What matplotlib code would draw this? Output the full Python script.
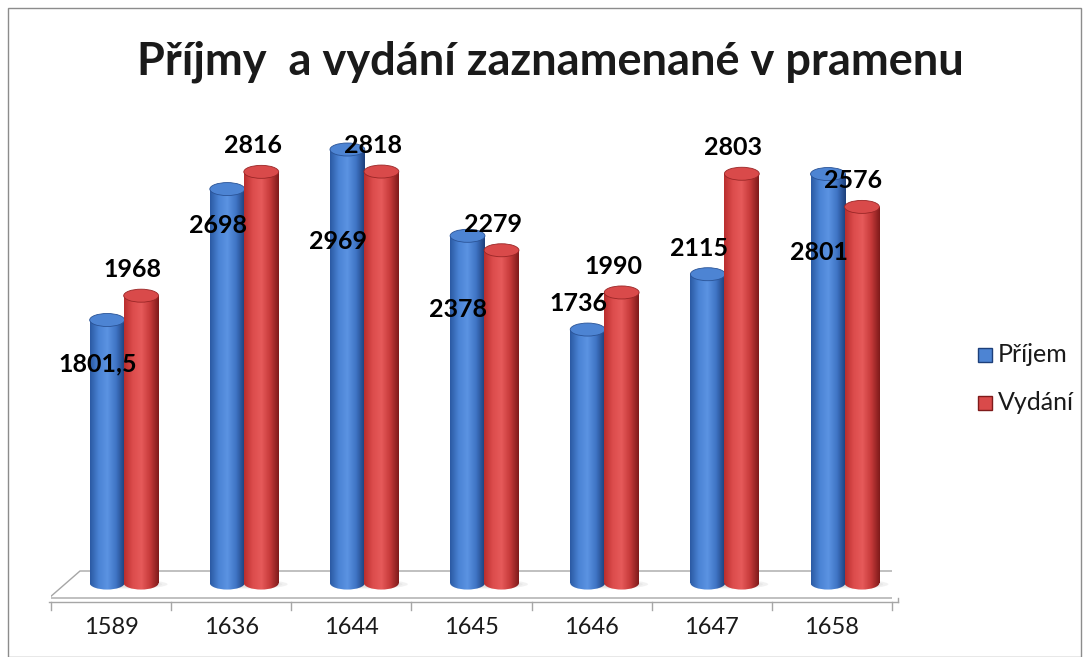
import numpy as np
import matplotlib
matplotlib.use("Agg")
import matplotlib.pyplot as plt
from matplotlib.patches import Rectangle, Ellipse, Polygon
from matplotlib.colors import LinearSegmentedColormap

# data
roky = ["1589", "1636", "1644", "1645", "1646", "1647", "1658"]
prijem = [1801.5, 2698, 2969, 2378, 1736, 2115, 2801]
vydani = [1968, 2816, 2818, 2279, 1990, 2803, 2576]
serie = ["Příjem", "Vydání"]
titulek = "Příjmy  a vydání zaznamenané v pramenu"

# Excel put the blue labels all over the place, offsets in pixels (up = +)
prijem_label_dy = [-44, -36, -92, -74, 26, 26, -78]
vydani_label_dy = 26

W, H = 1089, 657
plt.rcParams['font.family'] = ['Lato', 'DejaVu Sans']

fig = plt.figure(figsize=(W / 100, H / 100), dpi=100)
ax = fig.add_axes([51 / W, (H - 600) / H, 841 / W, 500 / H])
YMIN, YMAX = -116, 3308
px = 500 / (YMAX - YMIN)   # pixels per unit

blue_cm = LinearSegmentedColormap.from_list(
    "b", ["#2b5aa3", "#4a83d4", "#5b93e2", "#3f74c4", "#1d3f7a"], N=128)
red_cm = LinearSegmentedColormap.from_list(
    "r", ["#b92e2e", "#dc4c4c", "#e65a5a", "#c63a3a", "#7e1a1a"], N=128)
grad = np.linspace(0, 1, 128).reshape(1, -1)

bw = 0.29
cap = 13 / px


def cylinder(xc, v, cm, top_col, z):
    x0 = xc - bw / 2
    body = Rectangle((x0, 0), bw, v, facecolor="none", edgecolor="none")
    ax.add_patch(body)
    im = ax.imshow(grad, cmap=cm, extent=(x0, x0 + bw, 0, v), aspect="auto",
                   interpolation="bilinear", zorder=z + 0.1)
    im.set_clip_path(body)
    base = Ellipse((xc, 0), bw, cap, facecolor="none", edgecolor="none")
    ax.add_patch(base)
    im2 = ax.imshow(grad, cmap=cm, extent=(x0, x0 + bw, -cap, 0), aspect="auto",
                    interpolation="bilinear", zorder=z + 0.1)
    im2.set_clip_path(base)
    ax.add_patch(Ellipse((xc, v), bw, cap, facecolor=top_col,
                         edgecolor=cm(0.9), lw=0.6, zorder=z + 0.2))


# floor slab
fl = [(49, 598), (80, 571), (916, 571), (898, 598)]
fl_ax = [((x - 51) / 841, (600 - y) / 500) for x, y in fl]
ax.add_patch(Polygon(fl_ax, closed=True, transform=ax.transAxes, facecolor="white",
                     edgecolor="#a6a6a6", lw=1.0, zorder=1))
ax.plot([fl_ax[0][0], fl_ax[3][0]], [fl_ax[0][1] - 4 / 500, fl_ax[3][1] - 4 / 500],
        transform=ax.transAxes, color="#a6a6a6", lw=1.0, clip_on=False, zorder=1)
ax.plot([fl_ax[3][0], fl_ax[3][0]], [fl_ax[3][1], fl_ax[3][1] - 4 / 500],
        transform=ax.transAxes, color="#a6a6a6", lw=1.0, clip_on=False, zorder=1)
# soft shadows on the floor
for i in range(len(roky)):
    for k in range(4):
        ax.add_patch(Ellipse((i + 0.16, -8), 0.62 - k * 0.09, (9 - k * 1.5) / px,
                             facecolor="#d9d9d9", alpha=0.35, edgecolor="none", zorder=1.5))

# tick marks and category labels
for i in range(len(roky) + 1):
    xf = i / 7.0
    ax.plot([xf, xf], [-2 / 500, -10 / 500], transform=ax.transAxes,
            color="#a6a6a6", lw=1.0, clip_on=False)
for i, r in enumerate(roky):
    ax.text(i, YMIN - 28 / px, r, ha="center", va="center", fontsize=17,
            color="#1a1a1a")

for i in range(len(roky)):
    cylinder(i - 0.033, prijem[i], blue_cm, "#4d84d3", 2)
    cylinder(i + 0.25, vydani[i], red_cm, "#d94a4a", 3)


def fmt(v):
    return f"{v:g}".replace(".", ",")


for i in range(len(roky)):
    ax.text(i - 0.11, prijem[i] + prijem_label_dy[i] / px, fmt(prijem[i]),
            ha="center", va="center", fontsize=18, fontweight="bold", zorder=10)
    ax.text(i + 0.18, vydani[i] + vydani_label_dy / px, fmt(vydani[i]),
            ha="center", va="center", fontsize=18, fontweight="bold", zorder=10)

ax.set_xlim(-0.5, 6.5)
ax.set_ylim(YMIN, YMAX)
ax.axis("off")

fig.text(550 / W, 1 - 62 / H, titulek, ha="center", va="center",
         fontsize=32.5, fontweight="bold", color="#1a1a1a")

# legend
for j, (nm, c1, c2) in enumerate(zip(serie, ["#4d84d3", "#d94a4a"], ["#1d3f7a", "#7e1a1a"])):
    yc = 355 + j * 48
    fig.patches.append(Rectangle((978 / W, 1 - (yc + 7) / H), 14 / W, 14 / H,
                                 facecolor=c1, edgecolor=c2, lw=1.0,
                                 transform=fig.transFigure, figure=fig))
    fig.text(998 / W, 1 - yc / H, nm, ha="left", va="center", fontsize=18,
             color="#1a1a1a")

# outer border
fig.patches.append(Rectangle((8 / W, 0), (W - 16) / W, 1 - 8 / H, facecolor="none",
                             edgecolor="#8c8c8c", lw=1.0, transform=fig.transFigure,
                             figure=fig))

fig.savefig("out.png", dpi=100)
